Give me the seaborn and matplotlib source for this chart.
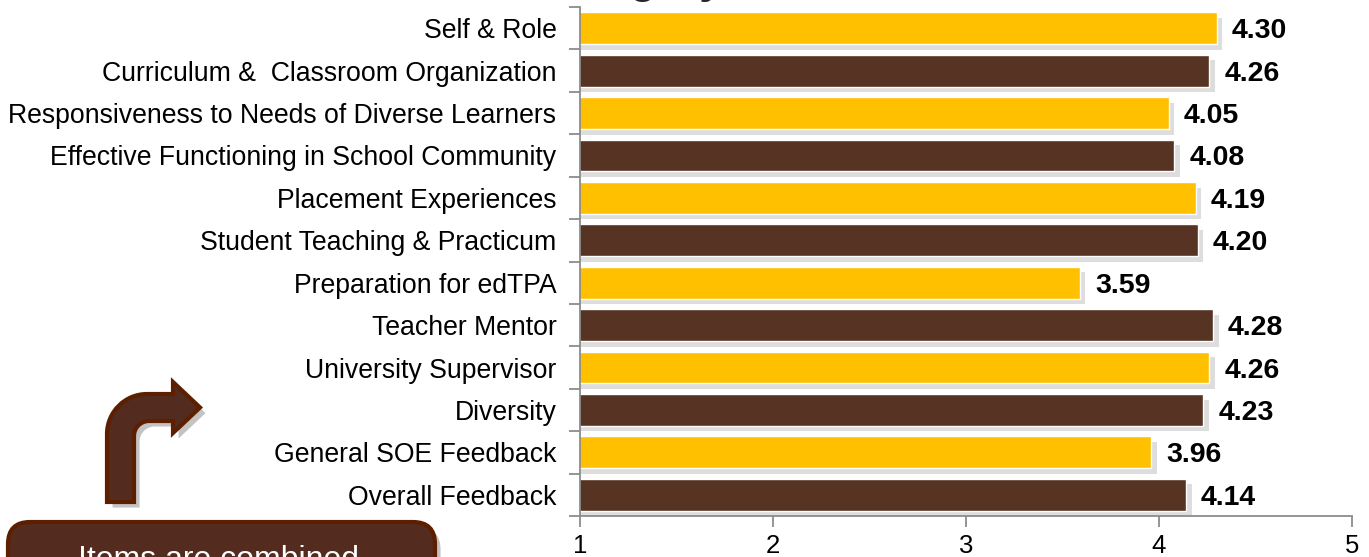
import matplotlib
matplotlib.use('Agg')
import matplotlib.pyplot as plt
import matplotlib.patheffects as pe
from matplotlib.path import Path
from matplotlib.patches import PathPatch, FancyBboxPatch
from matplotlib.transforms import Affine2D
import numpy as np
import pandas as pd
import seaborn as sns

# data, top to bottom as in the chart
categories = ['Self & Role', 'Curriculum &  Classroom Organization',
              'Responsiveness to Needs of Diverse Learners',
              'Effective Functioning in School Community',
              'Placement Experiences', 'Student Teaching & Practicum',
              'Preparation for edTPA', 'Teacher Mentor', 'University Supervisor',
              'Diversity', 'General SOE Feedback', 'Overall Feedback']
scores = [4.30, 4.26, 4.05, 4.08, 4.19, 4.20, 3.59, 4.28, 4.26, 4.23, 3.96, 4.14]
bar_colors = ['#FFC000', '#573323'] * 6
x_ticks = [1, 2, 3, 4, 5]

sns.set_style('white')
plt.rcParams['font.family'] = ['Liberation Sans', 'DejaVu Sans']

df = pd.DataFrame({'category': categories, 'score': scores})

W, H = 1369, 557
fig = plt.figure(figsize=(W / 100, H / 100), dpi=100)
ax = fig.add_axes([580 / W, 1 - 516 / H, (1352 - 580) / W, (516 - 7) / H])

sns.barplot(data=df, x='score', y='category', hue='category', palette=bar_colors,
            width=0.75, saturation=1, legend=False, ax=ax)

# soft drop shadow like the office chart
for p in ax.patches:
    p.set_path_effects([pe.SimplePatchShadow(offset=(4, -4), shadow_rgbFace='#aaaaaa', alpha=0.4),
                        pe.Normal()])

for i, v in enumerate(scores):
    ax.text(v + 0.078, i, f'{v:.2f}', va='center_baseline', ha='left',
            fontsize=20.5, fontweight='bold', color='black')

ax.set_xlim(1, 5)
ax.set_xticks(x_ticks)
ax.set_xlabel('')
ax.set_ylabel('')
ax.set_yticks(np.arange(-0.5, len(categories), 1), minor=True)

grey = '#8c8c8c'
for s in ['top', 'right']:
    ax.spines[s].set_visible(False)
for s in ['left', 'bottom']:
    ax.spines[s].set_color(grey)
    ax.spines[s].set_linewidth(1.3)

ax.tick_params(axis='y', which='major', length=0, pad=17, labelsize=19.2, labelcolor='black')
ax.tick_params(axis='y', which='minor', length=8, color=grey, width=1.3, direction='out', left=True)
ax.tick_params(axis='x', which='major', length=8, color=grey, width=1.3, direction='out',
               bottom=True, pad=5, labelsize=18.5, labelcolor='black')

# title, mostly cut off at the top edge
fig.text(537 / W, 1 + 7 / H, 'Category', fontsize=31, fontweight='bold',
         ha='left', va='baseline')

# decorations in pixel coordinates (y down)
px = Affine2D().scale(1, -1).translate(0, H)

k = 0.5523
ro, ri = 40, 15
verts = [(107, 502), (107, 394 + ro),
         (107, 394 + ro - ro * k), (107 + ro - ro * k, 394), (107 + ro, 394),
         (173, 394), (173, 382), (200, 407.5), (173, 433), (173, 421),
         (134 + ri, 421),
         (134 + ri - ri * k, 421), (134, 421 + ri - ri * k), (134, 421 + ri),
         (134, 502), (107, 502)]
codes = [Path.MOVETO, Path.LINETO,
         Path.CURVE4, Path.CURVE4, Path.CURVE4,
         Path.LINETO, Path.LINETO, Path.LINETO, Path.LINETO, Path.LINETO,
         Path.LINETO,
         Path.CURVE4, Path.CURVE4, Path.CURVE4,
         Path.LINETO, Path.CLOSEPOLY]
arrow = PathPatch(Path(verts, codes), facecolor='#532b1f', edgecolor='#5c1f00',
                  linewidth=3, transform=px)
arrow.set_path_effects([pe.SimplePatchShadow(offset=(4, -4), shadow_rgbFace='#888888', alpha=0.5),
                        pe.Normal()])
fig.add_artist(arrow)

box = FancyBboxPatch((8, 522), 427, 90, boxstyle='round,pad=0,rounding_size=22',
                     facecolor='#532b1f', edgecolor='#5c1f00', linewidth=3, transform=px)
box.set_path_effects([pe.SimplePatchShadow(offset=(4, -4), shadow_rgbFace='#888888', alpha=0.5),
                      pe.Normal()])
fig.add_artist(box)
fig.text(218, 568, 'Items are combined', transform=px, color='white',
         fontsize=23, ha='center', va='baseline')

fig.savefig('out.png', dpi=100)
